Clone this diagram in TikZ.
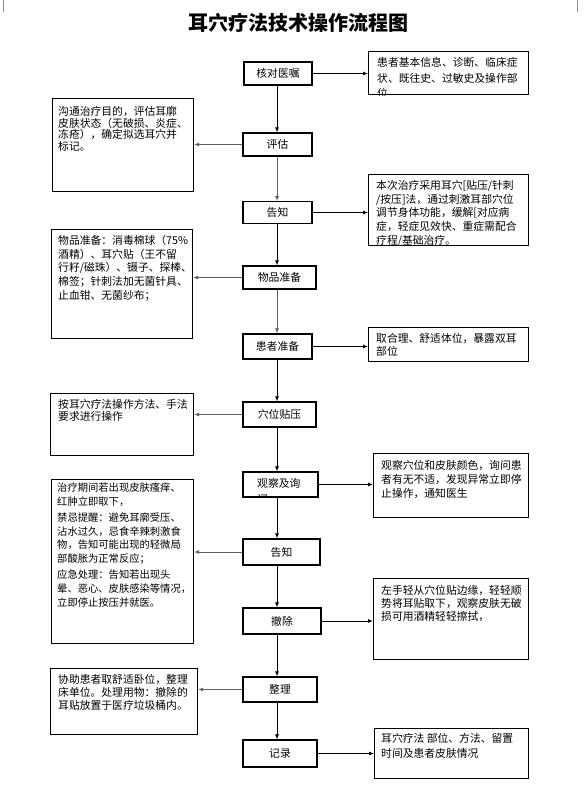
\documentclass[tikz,border=0pt]{standalone}
\usepackage{fontspec}
\setmainfont{Noto Sans CJK SC}
\usetikzlibrary{arrows.meta,positioning,calc}

\begin{document}
\begin{tikzpicture}[x=1pt, y=-1pt,
  stepbox/.style={rectangle, draw, line width=1.1pt, inner sep=0pt, font=\fontsize{10.8}{12}\selectfont},
  notebox/.style={rectangle, draw, line width=1.1pt, inner sep=0pt, anchor=north west},
  notetext/.style={anchor=north west, inner sep=0pt, align=left, font=\fontsize{10.8}{#1}\selectfont},
  notetext/.default=13.5,
  pipe/.style={-{Latex[length=5pt,width=4pt]}, line width=0.9pt},
  back/.style={pipe, black!62}
]
  \useasboundingbox (0,0) rectangle (584,787);
  \draw[black!45, line width=0.6pt] (3,0) -- (3,12);
  \draw[black!45, line width=0.6pt] (577,0) -- (577,12);

  % Title
  \node[font=\fontsize{20}{24}\selectfont\bfseries] (title) at (298,23) {耳穴疗法技术操作流程图};

  % Steps
  \coordinate (spine) at (277,0);
  \node[stepbox, minimum width=68, minimum height=23] (n1) at (278,73.5) {核对医嘱};
  \node[stepbox, minimum width=69, minimum height=23] (n2) at (277.5,144.5) {评估};
  \node[stepbox, minimum width=69, minimum height=22] (n3) at (277.5,212.5) {告知};
  \node[stepbox, minimum width=73, minimum height=23] (n4) at (279.5,277.5) {物品准备};
  \node[stepbox, minimum width=69, minimum height=25] (n5) at (277.5,346.5) {患者准备};
  \node[stepbox, minimum width=73, minimum height=25] (n6) at (279.5,414.5) {穴位贴压};
  \node[stepbox, minimum width=75, minimum height=25] (n7) at (280.5,484.5) {};
  \begin{scope}
    \clip (n7.north west) rectangle (n7.south east);
    \node[notetext=16.5] (n7t) at (257,478) {观察及询\\问};
  \end{scope}
  \node[stepbox, minimum width=77, minimum height=26] (n8) at (281.5,552) {告知};
  \node[stepbox, minimum width=78, minimum height=26] (n9) at (282,621) {撤除};
  \node[stepbox, minimum width=74, minimum height=25] (n10) at (280,689.5) {整理};
  \node[stepbox, minimum width=74, minimum height=27] (n11) at (280,753.5) {记录};

  % Notes on the right
  \node[notebox, minimum width=160, minimum height=43] (r1) at (368,51) {};
  \begin{scope}
    \clip (r1.north west) rectangle (r1.south east);
    \node[notetext=15.7] (r1t) at (377,57) {患者基本信息、诊断、临床症\\状、既往史、过敏史及操作部\\位};
  \end{scope}
  \node[notebox, minimum width=160, minimum height=71] (r2) at (368,174) {};
  \begin{scope}
    \clip (r2.north west) rectangle (r2.south east);
    \node[notetext=13.8] (r2t) at (376,180) {本次治疗采用耳穴[贴压/针刺\\/按压]法，通过刺激耳部穴位\\调节身体功能，缓解[对应病\\症，轻症见效快、重症需配合\\疗程/基础治疗。};
  \end{scope}
  \node[notebox, minimum width=160, minimum height=34] (r3) at (368,327) {};
  \node[notetext=13.3] (r3t) at (376,333) {取合理、舒适体位，暴露双耳\\部位};
  \node[notebox, minimum width=155, minimum height=64] (r4) at (373,453) {};
  \node[notetext=14] (r4t) at (381,460) {观察穴位和皮肤颜色，询问患\\者有无不适，发现异常立即停\\止操作，通知医生};
  \node[notebox, minimum width=155, minimum height=81] (r5) at (373,578) {};
  \node[notetext=13.3] (r5t) at (381,585) {左手轻从穴位贴边缘，轻轻顺\\势将耳贴取下，观察皮肤无破\\损可用酒精轻轻擦拭，};
  \node[notebox, minimum width=154, minimum height=50] (r6) at (374,728) {};
  \node[notetext=15] (r6t) at (381,733) {耳穴疗法 部位、方法、留置\\时间及患者皮肤情况};

  % Notes on the left
  \node[notebox, minimum width=141, minimum height=93] (l2) at (52,98) {};
  \node[notetext=11.7] (l2t) at (58,106) {沟通治疗目的，评估耳廓\\皮肤状态（无破损、炎症、\\冻疮），确定拟选耳穴并\\标记。};
  \node[notebox, minimum width=141, minimum height=109] (l4) at (51,229) {};
  \node[notetext=13.7] (l4t) at (58,235) {物品准备：消毒棉球（75\%\\酒精）、耳穴贴（王不留\\行籽/磁珠）、镊子、探棒、\\棉签；针刺法加无菌针具、\\止血钳、无菌纱布；};
  \node[notebox, minimum width=143, minimum height=62] (l6) at (50,393) {};
  \node[notetext=12.3] (l6t) at (58,399) {按耳穴疗法操作方法、手法\\要求进行操作};
  \node[notebox, minimum width=142, minimum height=164] (l8) at (51,479) {};
  \node[notetext=13.7, font=\fontsize{10.3}{13.7}\selectfont] (l8t) at (57,483) {治疗期间若出现皮肤瘙痒、\\红肿立即取下，\\[2pt]禁忌提醒：避免耳廓受压、\\沾水过久，忌食辛辣刺激食\\物，告知可能出现的轻微局\\部酸胀为正常反应；\\[2.5pt]应急处理：告知若出现头\\晕、恶心、皮肤感染等情况，\\立即停止按压并就医。};
  \node[notebox, minimum width=147, minimum height=66] (l10) at (50,668) {};
  \node[notetext=13.3] (l10t) at (58,674) {协助患者取舒适卧位，整理\\床单位。处理用物：撤除的\\耳贴放置于医疗垃圾桶内。};

  % Flow
  \draw[pipe] (n1.south -| spine) -- (n2.north -| spine);
  \draw[back] (n2.south -| spine) -- (n3.north -| spine);
  \draw[pipe] (n3.south -| spine) -- (n4.north -| spine);
  \draw[back] (n4.south -| spine) -- (n5.north -| spine);
  \draw[pipe] (n5.south -| spine) -- (n6.north -| spine);
  \draw[pipe] (n6.south -| spine) -- (n7.north -| spine);
  \draw[pipe] (n7.south -| spine) -- (n8.north -| spine);
  \draw[pipe] (n8.south -| spine) -- (n9.north -| spine);
  \draw[pipe] (n9.south -| spine) -- (n10.north -| spine);
  \draw[pipe] (n10.south -| spine) -- (n11.north -| spine);

  % Notes
  \draw[pipe] (n1.east) -- (n1.east -| r1.west);
  \draw[pipe] (n3.east) -- (n3.east -| r2.west);
  \draw[pipe] (n5.east) -- (n5.east -| r3.west);
  \draw[pipe] (n7.east) -- (n7.east -| r4.west);
  \draw[pipe] (n9.east) -- (n9.east -| r5.west);
  \draw[pipe] (n11.east) -- (n11.east -| r6.west);
  \draw[back] (n2.west) -- (n2.west -| l2.east);
  \draw[back] (n4.west) -- (n4.west -| l4.east);
  \draw[back] (n6.west) -- (n6.west -| l6.east);
  \draw[back] (n8.west) -- (n8.west -| l8.east);
  \draw[back] (n10.west) -- (n10.west -| l10.east);
\end{tikzpicture}
\end{document}
